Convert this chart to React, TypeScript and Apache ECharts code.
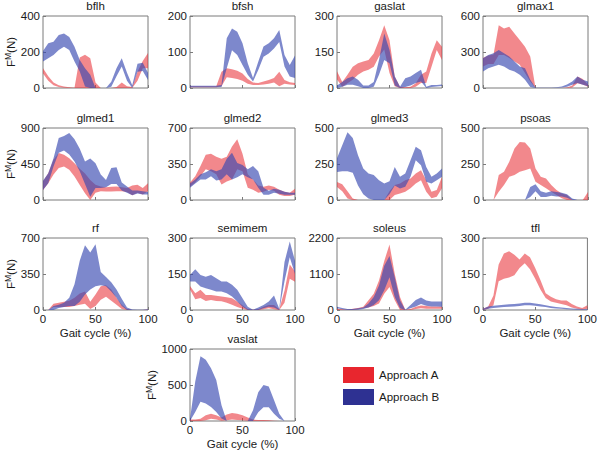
import React, { useEffect, useRef } from 'react';
import * as echarts from 'echarts';

// Gait cycle sample points (%)
const X = [0, 5, 10, 15, 20, 25, 30, 35, 40, 45, 50, 55, 60, 65, 70, 75, 80, 85, 90, 95, 100];

// Muscle names and y-axis maxima
const MUSCLES = ['bflh', 'bfsh', 'gaslat', 'glmax1', 'glmed1', 'glmed2', 'glmed3', 'psoas', 'rf', 'semimem', 'soleus', 'tfl', 'vaslat'];
const YMAX = [400, 200, 300, 600, 900, 700, 500, 500, 700, 300, 2200, 300, 1000];

// Approach A (red) / Approach B (blue) bands: lower and upper bounds
const bflhA_lo = [80, 40, 15, 5, 2, 0, 0, 0, 0, 0, 0, 0, 0, 0, 0, 0, 0, 0, 40, 110, 110];
const bflhA_hi = [110, 65, 30, 15, 8, 4, 2, 170, 185, 165, 30, 0, 0, 0, 5, 30, 10, 5, 90, 150, 195];
const bflhB_lo = [147, 165, 183, 211, 229, 211, 147, 92, 9, 0, 0, 0, 0, 7, 65, 120, 40, 0, 90, 95, 45];
const bflhB_hi = [205, 248, 257, 294, 303, 284, 229, 156, 110, 73, 0, 0, 0, 35, 110, 165, 85, 15, 135, 140, 85];

const bfshA_lo = [2, 2, 2, 2, 2, 2, 5, 30, 28, 25, 20, 12, 8, 8, 10, 12, 15, 5, 12, 10, 8];
const bfshA_hi = [5, 5, 5, 5, 5, 5, 45, 55, 52, 48, 40, 25, 15, 14, 18, 22, 28, 45, 22, 16, 14];
const bfshB_lo = [2, 2, 2, 2, 2, 2, 3, 55, 105, 92, 64, 37, 18, 50, 87, 96, 110, 128, 60, 32, 28];
const bfshB_hi = [6, 6, 6, 6, 6, 6, 8, 138, 165, 156, 124, 69, 28, 73, 115, 124, 138, 161, 92, 64, 90];

const gaslatA_lo = [35, 5, 20, 34, 55, 69, 76, 89, 131, 160, 62, 7, 0, 0, 0, 5, 21, 21, 89, 158, 117];
const gaslatA_hi = [70, 25, 55, 89, 103, 110, 117, 144, 199, 261, 199, 48, 5, 3, 5, 20, 55, 69, 144, 199, 172];
const gaslatB_lo = [0, 5, 14, 14, 7, 0, 0, 5, 55, 117, 103, 10, 0, 4, 10, 21, 27, 0, 4, 6, 8];
const gaslatB_hi = [10, 25, 41, 48, 34, 10, 10, 25, 117, 227, 158, 48, 5, 41, 48, 62, 76, 5, 12, 12, 15];

const glmax1A_lo = [180, 200, 200, 275, 275, 250, 220, 193, 124, 55, 0, 0, 0, 0, 0, 0, 0, 5, 40, 30, 10];
const glmax1A_hi = [250, 270, 280, 523, 496, 510, 455, 400, 344, 262, 0, 0, 0, 0, 0, 0, 5, 20, 95, 75, 30];
const glmax1B_lo = [138, 165, 179, 193, 179, 152, 138, 110, 69, 8, 0, 0, 0, 0, 2, 4, 10, 28, 41, 28, 14];
const glmax1B_hi = [248, 275, 289, 317, 289, 262, 220, 179, 165, 69, 3, 2, 2, 3, 6, 12, 30, 55, 96, 69, 55];

const glmed1A_lo = [126, 210, 320, 400, 418, 377, 293, 188, 84, 0, 90, 110, 105, 105, 110, 110, 100, 60, 90, 70, 110];
const glmed1A_hi = [230, 335, 502, 586, 565, 523, 460, 390, 330, 250, 190, 170, 160, 165, 170, 160, 150, 180, 190, 150, 210];
const glmed1B_lo = [126, 209, 418, 590, 620, 570, 480, 360, 200, 40, 150, 150, 160, 200, 200, 120, 90, 60, 80, 70, 70];
const glmed1B_hi = [240, 335, 523, 774, 800, 837, 760, 640, 480, 520, 460, 320, 250, 400, 410, 220, 170, 120, 120, 110, 100];

const glmed2A_lo = [130, 170, 230, 300, 280, 250, 150, 180, 200, 300, 280, 120, 100, 70, 80, 100, 90, 50, 40, 40, 50];
const glmed2A_hi = [170, 230, 330, 440, 450, 420, 400, 420, 520, 590, 450, 250, 200, 140, 130, 140, 130, 100, 80, 70, 110];
const glmed2B_lo = [120, 160, 200, 200, 230, 190, 200, 250, 200, 220, 250, 220, 200, 120, 50, 50, 70, 60, 50, 50, 50];
const glmed2B_hi = [160, 200, 250, 270, 300, 280, 300, 400, 460, 360, 340, 300, 330, 280, 120, 90, 110, 100, 80, 70, 70];

const glmed3A_lo = [90, 60, 10, 0, 0, 0, 0, 0, 0, 0, 0, 35, 46, 58, 81, 115, 138, 58, 12, 23, 81];
const glmed3A_hi = [125, 110, 60, 10, 0, 0, 0, 0, 0, 0, 60, 104, 115, 138, 150, 184, 207, 138, 58, 69, 161];
const glmed3B_lo = [195, 200, 200, 190, 100, 40, 10, 0, 0, 0, 40, 100, 80, 92, 161, 276, 242, 127, 115, 138, 161];
const glmed3B_hi = [290, 380, 470, 430, 311, 219, 184, 173, 138, 115, 130, 230, 161, 184, 276, 369, 346, 230, 161, 184, 219];

const psoasA_lo = [0, 0, 0, 58, 104, 161, 173, 196, 207, 219, 127, 104, 81, 58, 35, 12, 0, 0, 0, 0, 0];
const psoasA_hi = [0, 0, 0, 173, 196, 265, 357, 403, 400, 357, 219, 161, 150, 104, 69, 46, 35, 0, 0, 0, 55];
const psoasB_lo = [0, 0, 0, 0, 0, 0, 0, 0, 0, 20, 60, 20, 20, 30, 25, 25, 15, 0, 0, 0, 0];
const psoasB_hi = [0, 0, 0, 0, 0, 0, 0, 0, 0, 90, 110, 60, 50, 60, 55, 50, 40, 10, 0, 0, 0];

const rfA_lo = [0, 0, 30, 30, 30, 30, 40, 50, 60, 10, 40, 100, 130, 90, 50, 10, 0, 0, 0, 0, 0];
const rfA_hi = [0, 0, 60, 70, 80, 90, 120, 160, 180, 80, 150, 230, 240, 200, 120, 50, 10, 0, 0, 0, 5];
const rfB_lo = [0, 0, 0, 20, 30, 40, 40, 80, 150, 200, 230, 240, 230, 180, 120, 40, 0, 0, 0, 0, 0];
const rfB_hi = [0, 0, 40, 50, 70, 120, 250, 480, 630, 560, 640, 370, 320, 270, 200, 110, 25, 5, 3, 3, 8];

const semimemA_lo = [85, 45, 50, 38, 42, 38, 36, 30, 22, 12, 5, 0, 0, 0, 3, 7, 3, 0, 30, 130, 118];
const semimemA_hi = [100, 70, 84, 63, 63, 59, 56, 53, 49, 35, 20, 3, 1, 3, 14, 21, 21, 3, 80, 190, 160];
const semimemB_lo = [119, 119, 98, 91, 84, 77, 77, 70, 56, 35, 14, 0, 0, 0, 7, 14, 10, 0, 120, 220, 150];
const semimemB_hi = [146, 170, 146, 139, 146, 132, 119, 119, 105, 84, 49, 14, 1, 10, 21, 35, 60, 5, 200, 285, 205];

const soleusA_lo = [0, 0, 0, 10, 20, 50, 80, 120, 200, 500, 700, 300, 0, 0, 0, 30, 50, 40, 40, 40, 40];
const soleusA_hi = [40, 20, 10, 40, 60, 100, 300, 500, 900, 1500, 2000, 1100, 400, 10, 30, 100, 140, 120, 110, 110, 110];
const soleusB_lo = [50, 20, 0, 0, 10, 30, 80, 150, 300, 600, 1000, 400, 50, 0, 50, 110, 184, 133, 110, 105, 102];
const soleusB_hi = [100, 60, 30, 30, 50, 80, 200, 400, 750, 1350, 1650, 1000, 300, 10, 150, 307, 380, 290, 260, 258, 256];

const tflA_lo = [0, 5, 20, 120, 130, 135, 145, 175, 195, 170, 130, 85, 50, 35, 30, 25, 20, 10, 5, 2, 5];
const tflA_hi = [5, 15, 60, 190, 235, 245, 230, 210, 235, 220, 175, 125, 70, 55, 45, 40, 40, 25, 15, 8, 20];
const tflB_lo = [0, 5, 8, 10, 12, 14, 15, 17, 20, 20, 18, 15, 12, 8, 6, 5, 3, 2, 1, 1, 1];
const tflB_hi = [5, 15, 18, 20, 22, 24, 25, 27, 30, 30, 27, 24, 20, 16, 13, 10, 8, 6, 5, 4, 4];

const vaslatA_lo = [0, 0, 0, 10, 30, 20, 5, 10, 20, 15, 10, 5, 0, 0, 0, 0, 0, 0, 0, 0, 0];
const vaslatA_hi = [20, 20, 30, 80, 100, 80, 50, 90, 110, 100, 80, 50, 20, 15, 15, 10, 5, 0, 0, 0, 0];
const vaslatB_lo = [0, 126, 266, 243, 196, 126, 33, 0, 0, 0, 0, 0, 0, 120, 190, 190, 100, 30, 0, 0, 0];
const vaslatB_hi = [30, 547, 900, 850, 734, 570, 220, 0, 0, 0, 0, 0, 150, 400, 500, 480, 290, 100, 0, 0, 0];

const BANDS_A = [
  [bflhA_lo, bflhA_hi], [bfshA_lo, bfshA_hi], [gaslatA_lo, gaslatA_hi], [glmax1A_lo, glmax1A_hi],
  [glmed1A_lo, glmed1A_hi], [glmed2A_lo, glmed2A_hi], [glmed3A_lo, glmed3A_hi], [psoasA_lo, psoasA_hi],
  [rfA_lo, rfA_hi], [semimemA_lo, semimemA_hi], [soleusA_lo, soleusA_hi], [tflA_lo, tflA_hi],
  [vaslatA_lo, vaslatA_hi],
];
const BANDS_B = [
  [bflhB_lo, bflhB_hi], [bfshB_lo, bfshB_hi], [gaslatB_lo, gaslatB_hi], [glmax1B_lo, glmax1B_hi],
  [glmed1B_lo, glmed1B_hi], [glmed2B_lo, glmed2B_hi], [glmed3B_lo, glmed3B_hi], [psoasB_lo, psoasB_hi],
  [rfB_lo, rfB_hi], [semimemB_lo, semimemB_hi], [soleusB_lo, soleusB_hi], [tflB_lo, tflB_hi],
  [vaslatB_lo, vaslatB_hi],
];

const LEGEND_NAMES = ['Approach A', 'Approach B'];
const X_TITLE = 'Gait cycle (%)';

// Layout
const COL_LEFT = [43, 190, 337, 483];
const ROW_TOP = [16, 128, 238, 349];
const PW = 105;
const PH = 72;
const FONT = '"Liberation Sans", Arial, Helvetica, sans-serif';
const FS = 11.5;
const TXT = '#1a1a1a';
const BOX = '#7a7a7a';
const RED_SOLID = '#e8262e';
const BLUE_SOLID = '#2e3192';
const RED_FILL = '#e8262e';
const BLUE_FILL = '#3848b0';

function panelPos(i: number) {
  if (i === 12) return { left: COL_LEFT[1], top: ROW_TOP[3] };
  return { left: COL_LEFT[i % 4], top: ROW_TOP[Math.floor(i / 4)] };
}

// label only at 0, 50, 100
const showTick = (idx: number) => X[idx] % 50 === 0;

function buildOption() {
  const grids: any[] = [];
  const xAxes: any[] = [];
  const yAxes: any[] = [];
  const series: any[] = [];
  const graphics: any[] = [];
  const cats = X.map(String);

  MUSCLES.forEach((m, i) => {
    const { left, top } = panelPos(i);
    const showXLabels = i >= 8;
    const showXName = i === 8 || i === 10 || i === 11 || i === 12;
    const showYName = i === 0 || i === 4 || i === 8 || i === 12;
    grids.push({ left, top, width: PW, height: PH, show: true, borderColor: BOX, borderWidth: 1, backgroundColor: 'transparent' });
    xAxes.push({
      gridIndex: i, type: 'category', data: cats, boundaryGap: false,
      axisLine: { show: false }, splitLine: { show: false },
      axisTick: { show: true, inside: true, length: 3, interval: showTick, lineStyle: { color: BOX } },
      axisLabel: { show: showXLabels, interval: showTick, margin: 3, fontSize: FS, color: TXT, fontFamily: FONT },
      name: showXName ? X_TITLE : '', nameLocation: 'middle', nameGap: 17,
      nameTextStyle: { fontSize: FS, color: TXT, fontFamily: FONT },
    });
    yAxes.push({
      gridIndex: i, type: 'value', min: 0, max: YMAX[i], interval: YMAX[i] / 2,
      axisLine: { show: false }, splitLine: { show: false },
      axisTick: { show: true, inside: true, length: 3, lineStyle: { color: BOX } },
      axisLabel: { margin: 3, fontSize: FS, color: TXT, fontFamily: FONT, formatter: (v: number) => String(v) },
      name: showYName ? '{f|F}{s|M}{f|(N)}' : '', nameLocation: 'middle', nameGap: 25, nameRotate: 90,
      nameTextStyle: {
        color: TXT, fontFamily: FONT,
        rich: {
          f: { fontSize: FS, color: TXT, fontFamily: FONT, lineHeight: 15 },
          s: { fontSize: 8.5, color: TXT, fontFamily: FONT, verticalAlign: 'top', lineHeight: 15 },
        },
      },
    });
    graphics.push({
      type: 'text', x: left + PW / 2, y: top - 10.5,
      style: { text: m, fontSize: FS, fontFamily: FONT, fill: TXT, align: 'center', verticalAlign: 'middle', textAlign: 'center', textVerticalAlign: 'middle' },
    });

    const bands = [
      { b: BANDS_A[i], color: RED_FILL, op: 0.55, k: 'A' },
      { b: BANDS_B[i], color: BLUE_FILL, op: 0.65, k: 'B' },
    ];
    bands.forEach(({ b, color, op, k }) => {
      const [lo, hi] = b;
      const stack = `${m}-${k}`;
      series.push({
        type: 'line', name: `${m} ${k} lower`, xAxisIndex: i, yAxisIndex: i, stack, stackStrategy: 'all',
        data: lo.slice(), symbol: 'none', silent: true,
        lineStyle: { width: 0, opacity: 0 },
      });
      series.push({
        type: 'line', name: `${m} ${k} band`, xAxisIndex: i, yAxisIndex: i, stack, stackStrategy: 'all',
        data: hi.map((h, j) => Math.max(0, h - lo[j])), symbol: 'none', silent: true,
        lineStyle: { width: 0, opacity: 0 },
        areaStyle: { color, opacity: op },
      });
    });
  });

  series.push({ type: 'scatter', name: LEGEND_NAMES[0], xAxisIndex: 0, yAxisIndex: 0, data: [], itemStyle: { color: RED_SOLID, opacity: 1 } });
  series.push({ type: 'scatter', name: LEGEND_NAMES[1], xAxisIndex: 0, yAxisIndex: 0, data: [], itemStyle: { color: BLUE_SOLID, opacity: 1 } });

  return {
    animation: false,
    grid: grids,
    xAxis: xAxes,
    yAxis: yAxes,
    series,
    graphic: graphics,
    legend: {
      data: [
        { name: LEGEND_NAMES[0], itemStyle: { color: RED_SOLID, opacity: 1 } },
        { name: LEGEND_NAMES[1], itemStyle: { color: BLUE_SOLID, opacity: 1 } },
      ],
      orient: 'vertical', left: 343, top: 367, padding: 0,
      itemWidth: 31, itemHeight: 16, itemGap: 6, icon: 'rect',
      selectedMode: false,
      textStyle: { fontSize: FS, color: TXT, fontFamily: FONT },
    },
  };
}

export default function App() {
  const ref = useRef<HTMLDivElement>(null);
  useEffect(() => {
    if (!ref.current) return;
    const chart = echarts.init(ref.current, undefined, { renderer: 'svg' });
    chart.setOption(buildOption() as any);
    return () => chart.dispose();
  }, []);
  return <div ref={ref} style={{ position: 'absolute', left: 0, top: 0, width: 600, height: 452, background: '#fff' }} />;
}
